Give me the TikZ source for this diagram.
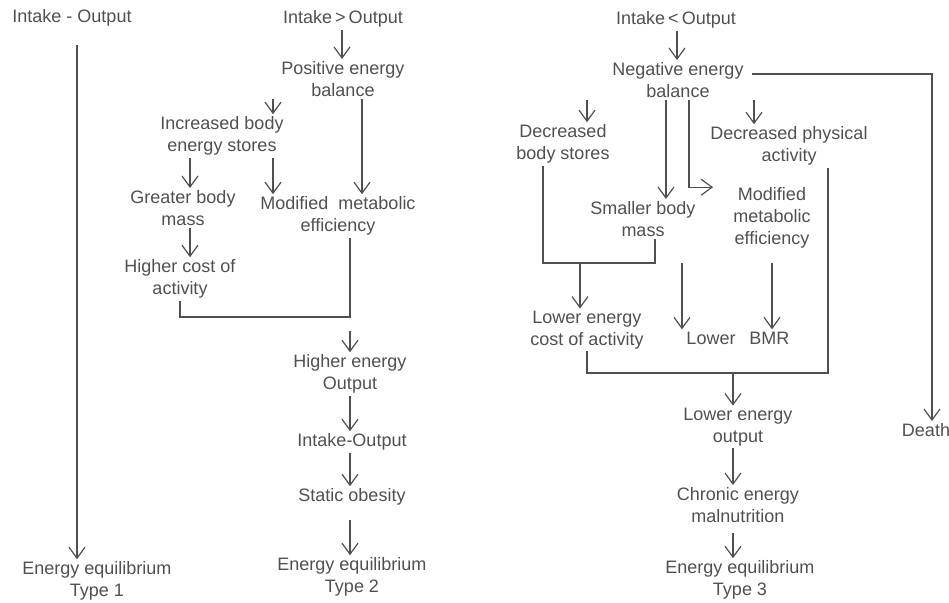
\documentclass[tikz,border=0pt]{standalone}
\usepackage{fontspec}
\setmainfont{Liberation Sans}
\usetikzlibrary{arrows.meta}
\definecolor{ink}{HTML}{505050}

\begin{document}
\begin{tikzpicture}[x=0.5pt,y=-0.5pt,
  lbl/.style={text=ink,font=\fontsize{9}{11}\selectfont,align=center,inner sep=1pt},
  ln/.style={draw=ink,line width=0.6pt},
  arr/.style={ln,-{Straight Barb[length=5.5pt,width=8pt]}}]

\useasboundingbox (0,0) rectangle (949,602);

\node[lbl] (in1) at (72,18) {Intake - Output};
\node[lbl] (eq1) at (97,581) {Energy equilibrium\\Type 1};
\coordinate (top1) at (77,45);
\draw[arr] (top1) -- (eq1.north -| top1);

\node[lbl] (in2) at (343,19) {Intake\,>\,Output};
\node[lbl] (posbal) at (343,79) {Positive energy\\balance};
\node[lbl] (incst) at (222,136) {Increased body\\energy stores};
\node[lbl] (grm) at (183,208) {Greater body\\mass};
\node[lbl] (modme) at (338,216) {Modified\ \ metabolic\\efficiency};
\node[lbl] (hcost) at (180,279) {Higher cost of\\activity};
\node[lbl] (hien) at (350,374) {Higher energy\\Output};
\node[lbl] (io) at (352,442) {Intake-Output};
\node[lbl] (ob) at (352,497) {Static obesity};
\node[lbl] (eq2) at (352,577) {Energy equilibrium\\Type 2};

\draw[arr] (in2.south -| 342,0) -- (posbal.north -| 342,0);
\draw[arr] (posbal.south -| 273,0) -- (incst.north -| 273,0);
\draw[arr] (posbal.south -| 362,0) -- (modme.north -| 362,0);
\draw[arr] (incst.south -| 190,0) -- (grm.north -| 190,0);
\draw[arr] (incst.south -| 273,0) -- (modme.north -| 273,0);
\draw[arr] (grm.south -| 190,0) -- (hcost.north -| 190,0);

\coordinate (j2) at (350,317);
\draw[ln] (modme.south -| j2) -- (j2) -| (hcost.south);
\draw[arr] ([yshift=-7pt]j2) -- (hien.north -| j2);
\draw[arr] (hien.south -| j2) -- (io.north -| j2);
\draw[arr] (io.south -| j2) -- (ob.north -| j2);
\draw[arr] ([yshift=-6pt]ob.south -| j2) -- (eq2.north -| j2);

\node[lbl] (in3) at (676,20) {Intake\,<\,Output};
\node[lbl] (negbal) at (678,80) {Negative energy\\balance};
\node[lbl] (decst) at (563,144) {Decreased\\body stores};
\node[lbl] (decpa) at (789,146) {Decreased physical\\activity};
\node[lbl] (smbm) at (643,219) {Smaller body\\mass};
\node[lbl] (modme3) at (772,218) {Modified\\metabolic\\efficiency};
\node[lbl] (lecost) at (587,330) {Lower energy\\cost of activity};
\node[lbl] (lbmr) at (738,338) {Lower\hspace{7pt}BMR};
\node[lbl] (leout) at (738,427) {Lower energy\\output};
\node[lbl] (chron) at (738,505) {Chronic energy\\malnutrition};
\node[lbl] (eq3) at (740,580) {Energy equilibrium\\Type 3};
\node[lbl] (death) at (926,430) {Death};

\draw[arr] (in3.south -| 677,0) -- (negbal.north -| 677,0);
\draw[arr] ([shift={(3pt,3pt)}]negbal.east) -| ([xshift=3pt]death.north);
\draw[arr] (negbal.south -| 587,0) -- (decst.north -| 587,0);
\draw[arr] (negbal.south -| 754,0) -- (decpa.north -| 754,0);
\draw[arr] (negbal.south -| 666,0) -- (smbm.north -| 666,0);
\draw[arr] (negbal.south -| 689,0) |- ([shift={(-9pt,-1pt)}]modme3.north west);

\coordinate (j3) at (580,263);
\draw[ln] (decst.south -| 543,0) |- (j3) -| (smbm.south -| 655,0);
\draw[arr] (j3) -- (lecost.north -| j3);
\draw[arr] (j3 -| 682,0) -- (lbmr.north -| 682,0);
\draw[arr] ([yshift=-6pt]modme3.south) -- (lbmr.north -| modme3);

\coordinate (j4) at (733,373);
\draw[ln] (decpa.south -| 828,0) |- (j4) -| (lecost.south);
\draw[arr] (j4) -- (leout.north -| j4);
\draw[arr] (leout.south -| j4) -- (chron.north -| j4);
\draw[arr] ([yshift=-4pt]chron.south -| j4) -- (eq3.north -| j4);

\end{tikzpicture}
\end{document}
